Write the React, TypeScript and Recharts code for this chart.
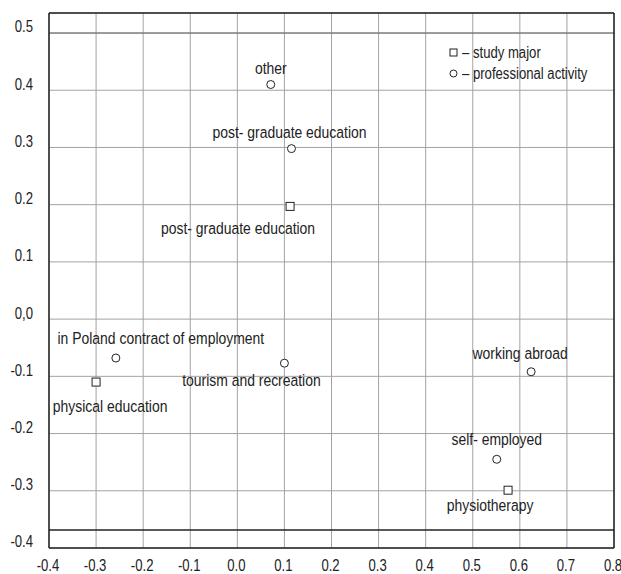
import { ScatterChart, Scatter, XAxis, YAxis, CartesianGrid, ReferenceLine } from "recharts";

// axis ticks
const xTicks = [-0.4, -0.3, -0.2, -0.1, 0, 0.1, 0.2, 0.3, 0.4, 0.5, 0.6, 0.7, 0.8];
const yTicks = [-0.4, -0.3, -0.2, -0.1, 0, 0.1, 0.2, 0.3, 0.4, 0.5];

// squares: study major
const studyNames = ["physical education", "post- graduate education", "physiotherapy"];
const studyX = [-0.3, 0.112, 0.575];
const studyY = [-0.11, 0.197, -0.299];

// circles: professional activity
const activityNames = [
  "other",
  "post- graduate education",
  "in Poland contract of employment",
  "tourism and recreation",
  "working abroad",
  "self- employed",
];
const activityX = [0.071, 0.115, -0.258, 0.1, 0.624, 0.551];
const activityY = [0.41, 0.298, -0.068, -0.077, -0.092, -0.245];

// where each label sits relative to its marker (px)
const studyLabelPos: Record<string, [number, number]> = {
  "physical education": [14, 24],
  "post- graduate education": [-52, 22],
  physiotherapy: [-18, 15],
};
const activityLabelPos: Record<string, [number, number]> = {
  other: [0, -17],
  "post- graduate education": [-2, -17],
  "in Poland contract of employment": [45, -20],
  "tourism and recreation": [-33, 17],
  "working abroad": [-11, -19],
  "self- employed": [0, -20],
};

// no narrow font available, so squeeze Liberation Sans instead
const FONT = "'Liberation Sans', Arial, sans-serif";
const SQUEEZE = 0.82;
const INK = "#222";
const Y_TOP = 0.535;
const Y_INNER_BOTTOM = -0.3685;

function minorTicks(from: number, step: number, count: number) {
  const out: number[] = [];
  for (let i = 0; i <= count; i++) out.push(Math.round((from + i * step) * 1000) / 1000);
  return out;
}
const xMinor = minorTicks(-0.4, 0.025, 48);
const yMinor = minorTicks(-0.4, 0.025, 37);
const yMinorRight = minorTicks(-0.4, 0.05, 18);

const studyData = studyNames.map((name, i) => ({ name, x: studyX[i], y: studyY[i] }));
const activityData = activityNames.map((name, i) => ({ name, x: activityX[i], y: activityY[i] }));

function NarrowText({ x, y, anchor = "middle", size = 17, children }: { x: number; y: number; anchor?: string; size?: number; children: any }) {
  return (
    <text
      transform={`translate(${x},${y}) scale(${SQUEEZE},1)`}
      textAnchor={anchor}
      dominantBaseline="central"
      fontFamily={FONT}
      fontSize={size}
      fill={INK}
    >
      {children}
    </text>
  );
}

function SquareMark(props: any) {
  const { cx, cy, payload } = props;
  const [dx, dy] = studyLabelPos[payload.name] || [0, 0];
  return (
    <g>
      <rect x={cx - 4} y={cy - 4} width={8} height={8} fill="#fff" stroke={INK} strokeWidth={1} />
      <NarrowText x={cx + dx} y={cy + dy}>{payload.name}</NarrowText>
    </g>
  );
}

function CircleMark(props: any) {
  const { cx, cy, payload } = props;
  const [dx, dy] = activityLabelPos[payload.name] || [0, 0];
  return (
    <g>
      <circle cx={cx} cy={cy} r={4} fill="#fff" stroke={INK} strokeWidth={1} />
      <NarrowText x={cx + dx} y={cy + dy}>{payload.name}</NarrowText>
    </g>
  );
}

function YTick({ x, y, payload }: any) {
  const v = payload.value;
  return (
    <NarrowText x={x} y={y - 6} anchor="end" size={16}>
      {Math.abs(v) < 1e-9 ? "0,0" : v.toFixed(1)}
    </NarrowText>
  );
}

function XTick({ x, y, payload }: any) {
  return (
    <NarrowText x={x - 1} y={y + 18} size={16}>
      {payload.value.toFixed(1)}
    </NarrowText>
  );
}

export default function App() {
  return (
    <div style={{ position: "absolute", left: 0, top: 0, width: 621, height: 574, background: "#fff" }}>
      <ScatterChart width={621} height={574} margin={{ top: 13, right: 7, bottom: 0, left: 0 }}>
        <CartesianGrid xAxisId="x" yAxisId="y" stroke="#a3a3a3" strokeWidth={1} />
        <XAxis
          xAxisId="x"
          type="number"
          dataKey="x"
          domain={[-0.4, 0.8]}
          ticks={xTicks}
          height={26}
          tickSize={0}
          tickMargin={0}
          tickLine={false}
          axisLine={{ stroke: INK, strokeWidth: 1.5 }}
          tick={<XTick />}
          interval={0}
        />
        <XAxis
          xAxisId="xMinor"
          type="number"
          orientation="bottom"
          mirror
          domain={[-0.4, 0.8]}
          ticks={xMinor}
          allowDataOverflow
          tick={false}
          tickSize={3}
          tickLine={{ stroke: INK }}
          axisLine={false}
          interval={0}
        />
        <YAxis
          yAxisId="y"
          type="number"
          dataKey="y"
          domain={[-0.4, Y_TOP]}
          ticks={yTicks}
          width={49}
          tickSize={0}
          tickMargin={16}
          tickLine={false}
          axisLine={{ stroke: INK, strokeWidth: 1.5 }}
          tick={<YTick />}
          interval={0}
        />
        <YAxis
          yAxisId="yMinor"
          type="number"
          orientation="left"
          mirror
          domain={[-0.4, Y_TOP]}
          ticks={yMinor}
          allowDataOverflow
          tick={false}
          tickSize={3}
          tickLine={{ stroke: INK }}
          axisLine={false}
          interval={0}
        />
        <YAxis
          yAxisId="yRight"
          type="number"
          orientation="right"
          mirror
          domain={[-0.4, Y_TOP]}
          ticks={yMinorRight}
          allowDataOverflow
          tick={false}
          tickSize={3}
          tickLine={{ stroke: INK }}
          axisLine={{ stroke: INK, strokeWidth: 1.5 }}
          interval={0}
        />
        <ReferenceLine xAxisId="x" yAxisId="y" y={Y_TOP} stroke={INK} strokeWidth={1.5} />
        <ReferenceLine xAxisId="x" yAxisId="y" y={0.5} stroke="#666" strokeWidth={1} />
        <ReferenceLine xAxisId="x" yAxisId="y" y={Y_INNER_BOTTOM} stroke={INK} strokeWidth={1.5} />
        <Scatter
          xAxisId="x"
          yAxisId="y"
          data={activityData}
          shape={<CircleMark />}
          isAnimationActive={false}
        />
        <Scatter
          xAxisId="x"
          yAxisId="y"
          data={studyData}
          shape={<SquareMark />}
          isAnimationActive={false}
        />
      </ScatterChart>
      <div
        style={{
          position: "absolute",
          left: 448,
          top: 42,
          fontFamily: FONT,
          fontSize: 16,
          color: INK,
          lineHeight: "21px",
          whiteSpace: "nowrap",
        }}
      >
        <div style={{ display: "flex", alignItems: "center" }}>
          <svg width={12} height={12} style={{ marginRight: 2 }}>
            <rect x={2} y={2} width={7} height={7} fill="#fff" stroke={INK} />
          </svg>
          <span style={{ display: "inline-block", transform: `scaleX(${SQUEEZE})`, transformOrigin: "left center" }}>
            – study major
          </span>
        </div>
        <div style={{ display: "flex", alignItems: "center" }}>
          <svg width={12} height={12} style={{ marginRight: 2 }}>
            <circle cx={5.5} cy={5.5} r={3.5} fill="#fff" stroke={INK} />
          </svg>
          <span style={{ display: "inline-block", transform: `scaleX(${SQUEEZE})`, transformOrigin: "left center" }}>
            – professional activity
          </span>
        </div>
      </div>
    </div>
  );
}
